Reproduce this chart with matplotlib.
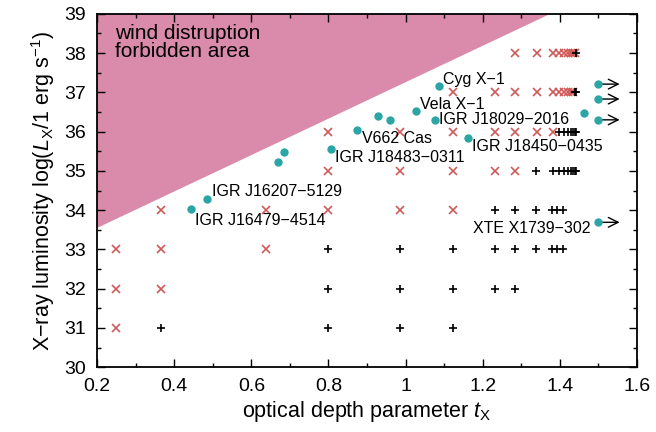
import matplotlib
matplotlib.use("Agg")
import matplotlib.pyplot as plt
from matplotlib.ticker import MultipleLocator, FuncFormatter
import numpy as np

plt.rcParams['font.family'] = ['Liberation Sans', 'DejaVu Sans']
plt.rcParams['mathtext.fontset'] = 'custom'
plt.rcParams['mathtext.rm'] = 'Liberation Sans'
plt.rcParams['mathtext.it'] = 'Liberation Sans:italic'

# forbidden area boundary (line from left edge to top edge)
forb_x = [0.2, 1.374]
forb_y = [33.54, 39.0]

# grid points: disrupted (red crosses)
cross_x = [1.284, 1.340, 1.383, 1.398, 1.410, 1.420, 1.428, 1.434, 1.439,
           1.123, 1.232, 1.284, 1.340, 1.383, 1.398, 1.410, 1.420, 1.428, 1.434,
           0.798, 0.985, 1.123, 1.232, 1.284, 1.340, 1.383,
           0.798, 0.985, 1.123, 1.232, 1.284,
           0.367, 0.637, 0.798, 0.985, 1.123,
           0.248, 0.367, 0.637,
           0.248, 0.367,
           0.248]
cross_y = [38]*9 + [37]*10 + [36]*7 + [35]*5 + [34]*5 + [33]*3 + [32]*2 + [31]

# grid points: not disrupted (black plus)
plus_x = [1.443,
          1.439, 1.443,
          1.398, 1.410, 1.420, 1.428, 1.434, 1.439, 1.443,
          1.337, 1.383, 1.398, 1.410, 1.420, 1.428, 1.434, 1.439, 1.443,
          1.232, 1.284, 1.337, 1.379, 1.393, 1.408,
          0.798, 0.985, 1.123, 1.232, 1.284, 1.337, 1.379, 1.393, 1.408,
          0.798, 0.985, 1.123, 1.232, 1.284,
          0.367, 0.798, 0.985, 1.123]
plus_y = [38] + [37]*2 + [36]*7 + [35]*9 + [34]*6 + [33]*9 + [32]*5 + [31]*4

# observed sources
src_x = [0.443, 0.486, 0.670, 0.685, 0.806, 0.873, 0.928, 0.960, 1.026, 1.076,
         1.087, 1.161, 1.500, 1.500, 1.463, 1.500, 1.500]
src_y = [34.02, 34.28, 35.22, 35.47, 35.56, 36.04, 36.41, 36.30, 36.53, 36.30,
         37.15, 35.83, 37.21, 36.83, 36.48, 36.30, 33.69]
arrow_idx = [12, 13, 15, 16]

label_text = ["IGR J16479\u22124514", "IGR J16207\u22125129", "IGR J18483\u22120311",
              "V662 Cas", "Vela X\u22121", "IGR J18029\u22122016", "Cyg X\u22121",
              "IGR J18450\u22120435", "XTE X1739\u2212302"]
label_x = [0.454, 0.497, 0.817, 0.886, 1.037, 1.087, 1.097, 1.171, 1.480]
label_y = [33.73, 34.47, 35.35, 35.83, 36.70, 36.30, 37.34, 35.63, 33.54]
label_ha = ['left'] * 8 + ['right']

fig = plt.figure(figsize=(6.56, 4.32), dpi=100)
ax = fig.add_axes([0.148, 0.150, 0.823, 0.818])

ax.fill([forb_x[0], forb_x[0], forb_x[1]], [forb_y[0], 39.0, forb_y[1]],
        color='#da8aaa', lw=0, zorder=1)

ax.plot(cross_x, cross_y, 'x', color='#cf5a5a', ms=5.8, mew=1.2, zorder=3)
ax.plot(plus_x, plus_y, '+', color='black', ms=6.3, mew=1.2, zorder=3)

for i in arrow_idx:
    ax.annotate('', xy=(src_x[i] + 0.055, src_y[i]), xytext=(src_x[i], src_y[i]),
                arrowprops=dict(arrowstyle='->,head_length=0.5,head_width=0.25',
                                color='black', lw=1.0,
                                mutation_scale=14, shrinkA=0, shrinkB=0), zorder=4)
ax.plot(src_x, src_y, 'o', color='#2ba5a5', ms=6, mew=0, zorder=5)

for t, lx, ly, ha in zip(label_text, label_x, label_y, label_ha):
    ax.text(lx, ly, t, fontsize=11.5, ha=ha, va='center', zorder=6)

ax.text(0.247, 38.27, "wind distruption\nforbidden area", fontsize=15,
        ha='left', va='center', linespacing=0.95, zorder=6)

ax.set_xlim(0.2, 1.6)
ax.set_ylim(30, 39)
ax.xaxis.set_major_locator(MultipleLocator(0.2))
ax.xaxis.set_minor_locator(MultipleLocator(0.1))
ax.yaxis.set_major_locator(MultipleLocator(1))
ax.yaxis.set_minor_locator(MultipleLocator(0.5))
ax.xaxis.set_major_formatter(FuncFormatter(lambda v, p: ('%g' % round(v, 2))))
ax.tick_params(which='both', direction='in', top=True, right=True, labelsize=14)
ax.tick_params(which='major', length=6, width=1)
ax.tick_params(which='minor', length=3, width=1)
ax.tick_params(axis='x', pad=8)
ax.tick_params(axis='y', pad=8)
for s in ax.spines.values():
    s.set_linewidth(1.3)

ax.set_xlabel(r"optical depth parameter $t_{\mathrm{X}}$", fontsize=15.5, labelpad=3)
ax.set_ylabel("X\u2212ray luminosity log($L_{\\mathrm{X}}$/1 erg s$^{-1}$)",
              fontsize=15.5, labelpad=5)

fig.savefig("out.png", dpi=100)
